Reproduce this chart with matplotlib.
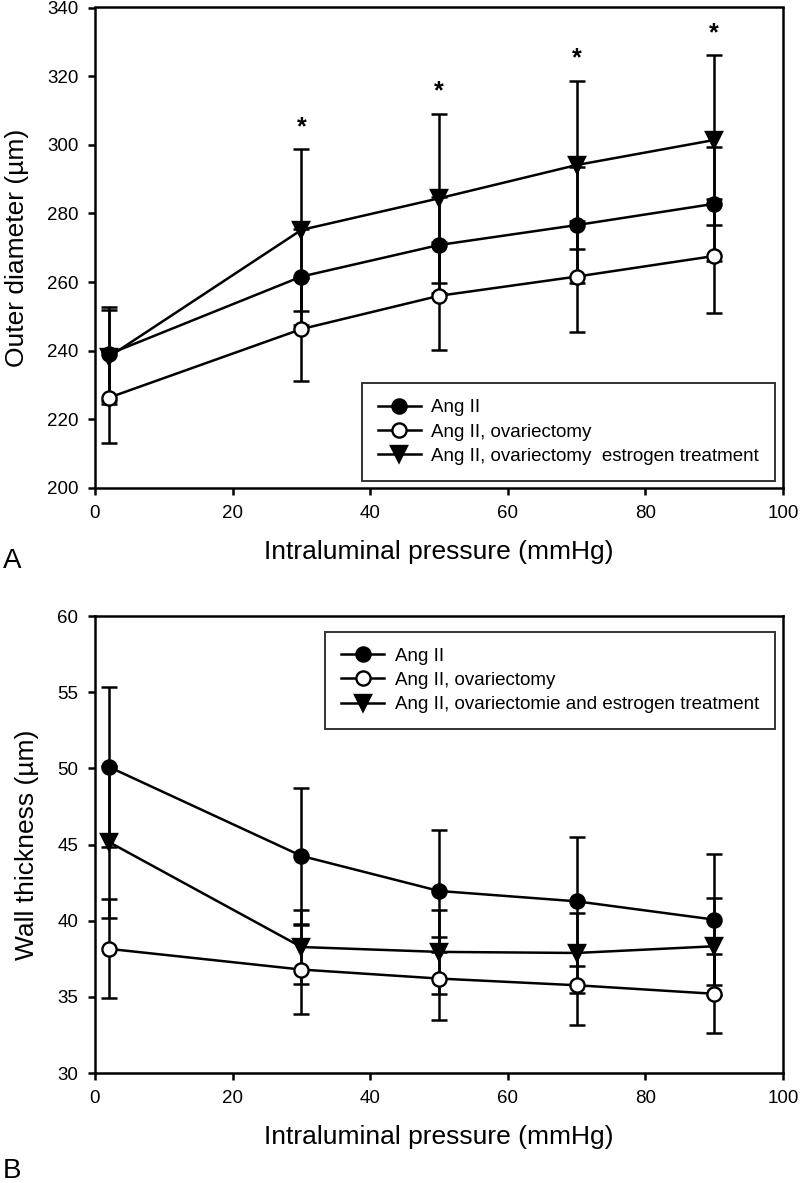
import matplotlib
matplotlib.use("Agg")
import matplotlib.pyplot as plt

plt.rcParams['font.family'] = ['Liberation Sans', 'DejaVu Sans']

# ---------------- data ----------------
pressure = [2, 30, 50, 70, 90]

# Panel A: outer diameter (µm)
od_ang = [239.0, 261.6, 270.8, 276.6, 282.8]
od_ang_err = [13.7, 14.0, 14.0, 17.0, 16.6]
od_ovx = [226.3, 246.3, 256.0, 261.6, 267.6]
od_ovx_err = [13.2, 15.0, 15.7, 16.2, 16.5]
od_e2 = [238.2, 275.2, 284.4, 294.1, 301.4]
od_e2_err = [13.8, 23.5, 24.6, 24.5, 24.7]
star_idx = [1, 2, 3, 4]

# Panel B: wall thickness (µm)
wt_ang = [50.1, 44.25, 41.95, 41.27, 40.07]
wt_ang_err = [5.25, 4.45, 4.03, 4.23, 4.3]
wt_ovx = [38.15, 36.79, 36.2, 35.76, 35.2]
wt_ovx_err = [3.25, 2.9, 2.7, 2.63, 2.6]
wt_e2 = [45.17, 38.27, 37.95, 37.88, 38.32]
wt_e2_err = [5.0, 2.46, 2.78, 2.62, 3.2]

labels_A = ["Ang II", "Ang II, ovariectomy", "Ang II, ovariectomy  estrogen treatment"]
labels_B = ["Ang II", "Ang II, ovariectomy", "Ang II, ovariectomie and estrogen treatment"]

xlabel = "Intraluminal pressure (mmHg)"
ylabel_A = "Outer diameter (µm)"
ylabel_B = "Wall thickness (µm)"
# --------------------------------------

W, H = 800, 1183
fig = plt.figure(figsize=(W / 100, H / 100), dpi=100)

def ax_rect(l, t, r, b):
    return [l / W, 1 - b / H, (r - l) / W, (b - t) / H]

axA = fig.add_axes(ax_rect(95, 7.5, 783, 488))
axB = fig.add_axes(ax_rect(95, 616, 783, 1073))

styles = [
    dict(marker='o', mfc='black', mec='black', ms=10.2),
    dict(marker='o', mfc='white', mec='black', ms=10.2),
    dict(marker='v', mfc='black', mec='black', ms=11),
]

def panel(ax, series, labels, ylim, yticks, ylabel, legloc, anchor):
    for (y, e), st in zip(series, styles):
        ax.errorbar(pressure, y, yerr=e, fmt='none', ecolor='black',
                    elinewidth=1.8, capsize=6, capthick=1.8, zorder=2)
    handles = []
    for (y, e), st, lab in zip(series, styles, labels):
        h, = ax.plot(pressure, y, color='black', lw=1.8, mew=1.7,
                     label=lab, zorder=3, **st)
        handles.append(h)
    ax.set_xlim(0, 100)
    ax.set_ylim(*ylim)
    ax.set_xticks([0, 20, 40, 60, 80, 100])
    ax.set_yticks(yticks)
    for s in ax.spines.values():
        s.set_linewidth(1.8)
    ax.tick_params(direction='out', length=5, width=1.8, labelsize=13.5, pad=7,
                   top=False, right=False)
    ax.set_xlabel(xlabel, fontsize=19, labelpad=13)
    ax.set_ylabel(ylabel, fontsize=19, labelpad=13)
    leg = ax.legend(handles=handles, loc=legloc, bbox_to_anchor=anchor,
                    borderaxespad=0, fontsize=13.5, frameon=True, fancybox=False,
                    edgecolor='black', handlelength=2.3, handletextpad=0.55,
                    labelspacing=0.38, borderpad=0.85)
    leg.get_frame().set_linewidth(1.4)
    return ax

panel(axA, [(od_ang, od_ang_err), (od_ovx, od_ovx_err), (od_e2, od_e2_err)],
      labels_A, (200, 340), list(range(200, 341, 20)), ylabel_A,
      'lower right', (0.988, 0.015))
panel(axB, [(wt_ang, wt_ang_err), (wt_ovx, wt_ovx_err), (wt_e2, wt_e2_err)],
      labels_B, (30, 60), list(range(30, 61, 5)), ylabel_B,
      'upper right', (0.988, 0.966))

for i in star_idx:
    axA.text(pressure[i], od_e2[i] + od_e2_err[i] + 3.0, "*", ha='center',
             va='bottom', fontsize=18, fontweight='bold')

fig.text(3 / W, 1 - 568 / H, "A", fontsize=20, ha='left', va='baseline')
fig.text(3 / W, 1 - 1178 / H, "B", fontsize=20, ha='left', va='baseline')

fig.savefig("out.png", dpi=100)
